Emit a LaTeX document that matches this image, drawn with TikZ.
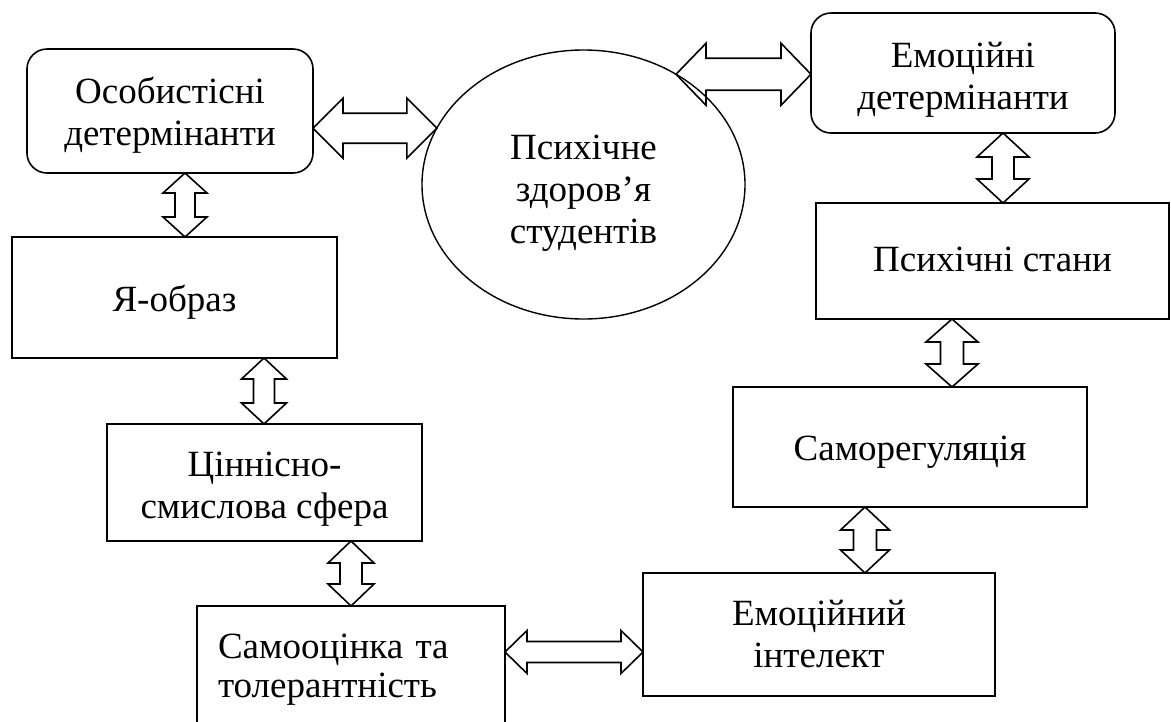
\documentclass[tikz,border=0pt]{standalone}
\usepackage{fontspec}
\setmainfont{Liberation Serif}
\usetikzlibrary{shapes.geometric,calc}
\tikzset{
  box/.style={draw, line width=1.6pt, align=center, inner sep=0pt, outer sep=0pt, font=\fontsize{37}{42}\selectfont},
  rbox/.style={box, rounded corners=20pt},
  oval/.style={ellipse, draw, line width=1.4pt, align=center, inner sep=0pt, outer sep=0pt, font=\fontsize{37}{42}\selectfont},
  dblarr/.style={draw, line width=1.6pt, line join=miter}
}
% label lowered by #1 without changing its size; #2 column type; #3 text
\newcommand\lbl[3]{\raisebox{-#1}[\height][\depth]{\begin{tabular}{@{}#2@{}}#3\end{tabular}}}
% horizontal double arrow: #1 left tip, #2 right tip, #3 head half width, #4 shaft half width, #5 head length
\newcommand\harr[5]{\draw[dblarr] let \p1=(#1), \p2=(#2) in
  (\x1,\y1) -- (\x1+#5,\y1+#3) -- (\x1+#5,\y1+#4) -- (\x2-#5,\y1+#4) -- (\x2-#5,\y1+#3) -- (\x2,\y1)
  -- (\x2-#5,\y1-#3) -- (\x2-#5,\y1-#4) -- (\x1+#5,\y1-#4) -- (\x1+#5,\y1-#3) -- cycle;}
% vertical double arrow: #1 top tip, #2 bottom tip
\newcommand\varr[5]{\draw[dblarr] let \p1=(#1), \p2=(#2) in
  (\x1,\y1) -- (\x1+#3,\y1-#5) -- (\x1+#4,\y1-#5) -- (\x1+#4,\y2+#5) -- (\x1+#3,\y2+#5) -- (\x1,\y2)
  -- (\x1-#3,\y2+#5) -- (\x1-#4,\y2+#5) -- (\x1-#4,\y1-#5) -- (\x1-#3,\y1-#5) -- cycle;}
\begin{document}
\begin{tikzpicture}[x=1pt,y=1pt]
\useasboundingbox (0,0) rectangle (1171,-721);
\clip (0,0) rectangle (1171,-721);
\fill[white] (0,0) rectangle (1171,-721);

\node[rbox, minimum width=286pt, minimum height=124pt] (os) at (170,-111) {\lbl{5pt}{c}{Особистісні\\детермінанти}};
\node[oval, minimum width=323pt, minimum height=269pt] (psy) at (583.5,-184.5) {\lbl{9pt}{c}{Психічне\\здоров’я\\студентів}};
\node[rbox, minimum width=304pt, minimum height=120pt] (em) at (963,-73) {\lbl{7pt}{c}{Емоційні\\детермінанти}};
\node[box, minimum width=353pt, minimum height=116pt] (st) at (992.5,-261) {\lbl{2pt}{c}{Психічні стани}};
\node[box, minimum width=325pt, minimum height=121pt] (ya) at (174.5,-297.5) {\lbl{6pt}{c}{Я-образ}};
\node[box, minimum width=315pt, minimum height=117pt] (cin) at (264.5,-482.5) {\lbl{7pt}{c}{Ціннісно-\\смислова сфера}};
\node[box, minimum width=308pt, minimum height=128pt, font=\fontsize{37}{39}\selectfont, align=left, text width=266pt] (so) at (351,-670) {Самооцінка та\\толерантність};
\node[box, minimum width=354pt, minimum height=120pt] (sr) at (910,-447) {\lbl{5pt}{c}{Саморегуляція}};
\node[box, minimum width=352pt, minimum height=123pt] (ei) at (819,-634.5) {\lbl{4pt}{c}{Емоційний\\інтелект}};

\coordinate (v1) at (185,0);
\coordinate (v2) at (264,0);
\coordinate (v3) at (351,0);
\coordinate (v4) at (1003,0);
\coordinate (v5) at (952,0);
\coordinate (v6) at (865,0);
\coordinate (h3) at (0,-652);

\harr{os.east |- psy.159.7}{psy.159.7}{30pt}{15pt}{30pt}
\harr{psy.50}{em.west |- psy.50}{31pt}{16pt}{30pt}
\harr{so.east |- h3}{ei.west |- h3}{21.5pt}{10.5pt}{22pt}

\varr{os.south -| v1}{ya.north -| v1}{22pt}{10pt}{20pt}
\varr{ya.south -| v2}{cin.north -| v2}{22.5pt}{10.5pt}{21pt}
\varr{cin.south -| v3}{so.north -| v3}{23pt}{11pt}{22pt}
\varr{em.south -| v4}{st.north -| v4}{26pt}{11pt}{24pt}
\varr{st.south -| v5}{sr.north -| v5}{26pt}{11.5pt}{23pt}
\varr{sr.south -| v6}{ei.north -| v6}{24.5pt}{11.5pt}{23pt}
\end{tikzpicture}
\end{document}
